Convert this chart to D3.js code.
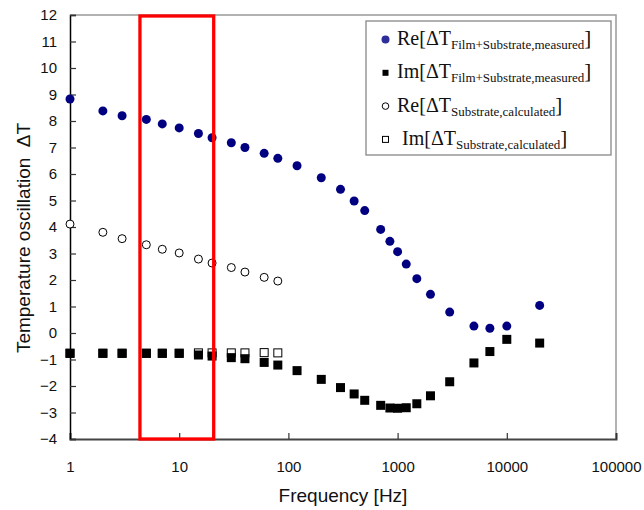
<!DOCTYPE html>
<html>
<head>
<meta charset="utf-8">
<script src="https://cdn.jsdelivr.net/npm/d3@7"></script>
<style>
    body { margin: 0; background: #fff; }
    svg { display: block; }
</style>
</head>
<body>
<div id="chart"></div>
<script>
// frequencies [Hz] of the measured points
const freqMeasured = [1, 2, 3, 5, 7, 10, 15, 20, 30, 40, 60, 80, 120, 200, 300, 400, 500, 700, 850, 1000, 1200, 1500, 2000, 3000, 5000, 7000, 10000, 20000];
const reMeasured = [8.83, 8.38, 8.2, 8.06, 7.89, 7.74, 7.53, 7.37, 7.18, 7.0, 6.78, 6.59, 6.31, 5.86, 5.42, 4.98, 4.62, 3.91, 3.46, 3.07, 2.6, 2.05, 1.46, 0.79, 0.26, 0.18, 0.26, 1.04];
const imMeasured = [-0.77, -0.77, -0.77, -0.77, -0.77, -0.77, -0.83, -0.87, -0.93, -0.97, -1.11, -1.21, -1.42, -1.75, -2.06, -2.3, -2.54, -2.73, -2.83, -2.84, -2.82, -2.67, -2.37, -1.84, -1.13, -0.7, -0.24, -0.38];

// substrate only, calculated
const freqCalc = [1, 2, 3, 5, 7, 10, 15, 20, 30, 40, 60, 80];
const reCalc = [4.11, 3.8, 3.56, 3.33, 3.16, 3.02, 2.79, 2.64, 2.47, 2.3, 2.1, 1.96];
const imCalc = [-0.76, -0.76, -0.76, -0.76, -0.76, -0.76, -0.75, -0.75, -0.75, -0.75, -0.74, -0.75];

const xTicks = [1, 10, 100, 1000, 10000, 100000];
const yTicks = d3.range(-4, 13, 1);

// highlighted frequency window (red box)
const highlight = [4.37, 20.7];

const legendRows = [
    {kind: "reMeas", main: "Re[ΔT", sub: "Film+Substrate,measured"},
    {kind: "imMeas", main: "Im[ΔT", sub: "Film+Substrate,measured"},
    {kind: "reCalc", main: "Re[ΔT", sub: "Substrate,calculated"},
    {kind: "imCalc", main: " Im[ΔT", sub: "Substrate,calculated"}
];

const W = 644, H = 510;
const margin = {top: 15, right: 28, bottom: 71, left: 70};
const width = W - margin.left - margin.right;
const height = H - margin.top - margin.bottom;

const svg = d3.select("#chart").append("svg")
    .attr("width", W)
    .attr("height", H);

const g = svg.append("g")
    .attr("transform", "translate(" + margin.left + "," + margin.top + ")");

const x = d3.scaleLog().domain([1, 100000]).range([0, width]);
const y = d3.scaleLinear().domain([-4, 12]).range([height, 0]);

const sans = "Liberation Sans, Arial, sans-serif";
const serif = "Liberation Serif, Times New Roman, serif";
const navy = "#000080";

// frame: top and right in grey
g.append("path")
    .attr("d", "M0,0H" + width + "V" + height)
    .attr("fill", "none")
    .attr("stroke", "#999")
    .attr("stroke-width", 1.5);

// x axis, ticks pointing up
const xAxis = g.append("g")
    .attr("transform", "translate(0," + height + ")")
    .call(d3.axisBottom(x).tickValues(xTicks).tickSize(-6).tickPadding(22).tickFormat(d3.format("d")));
xAxis.select(".domain").attr("stroke", "#444").attr("stroke-width", 2);
xAxis.selectAll(".tick line").attr("stroke", "#333").attr("stroke-width", 1.2);
xAxis.selectAll("text")
    .attr("font-family", sans)
    .attr("font-size", 15)
    .attr("fill", "#111");

// y axis, ticks pointing in
const yAxis = g.append("g")
    .call(d3.axisLeft(y).tickValues(yTicks).tickSize(-6).tickPadding(13).tickFormat(d => d < 0 ? "−" + Math.abs(d) : d));
yAxis.select(".domain").attr("stroke", "#000").attr("stroke-width", 1.5);
yAxis.selectAll(".tick line").attr("stroke", "#333").attr("stroke-width", 1.2);
yAxis.selectAll("text")
    .attr("font-family", sans)
    .attr("font-size", 15)
    .attr("fill", "#111");

// axis titles
svg.append("text")
    .attr("x", margin.left + width / 2)
    .attr("y", 502)
    .attr("text-anchor", "middle")
    .attr("font-family", sans)
    .attr("font-size", 19)
    .attr("fill", "#111")
    .text("Frequency [Hz]");

svg.append("text")
    .attr("transform", "translate(30,238) rotate(-90)")
    .attr("text-anchor", "middle")
    .attr("font-family", sans)
    .attr("font-size", 19)
    .attr("fill", "#111")
    .attr("xml:space", "preserve")
    .style("white-space", "pre")
    .text("Temperature oscillation  ΔT");

// calculated substrate values (drawn under the measured ones)
const calc = freqCalc.map((f, i) => ({f: f, re: reCalc[i], im: imCalc[i]}));
const meas = freqMeasured.map((f, i) => ({f: f, re: reMeasured[i], im: imMeasured[i]}));

g.selectAll(".im-calc").data(calc).enter().append("rect")
    .attr("class", "im-calc")
    .attr("x", d => x(d.f) - 4)
    .attr("y", d => y(d.im) - 4)
    .attr("width", 8)
    .attr("height", 8)
    .attr("fill", "#fff")
    .attr("stroke", "#000")
    .attr("stroke-width", 1);

g.selectAll(".re-calc").data(calc).enter().append("circle")
    .attr("class", "re-calc")
    .attr("cx", d => x(d.f))
    .attr("cy", d => y(d.re))
    .attr("r", 4)
    .attr("fill", "#fff")
    .attr("stroke", "#000")
    .attr("stroke-width", 1);

g.selectAll(".im-meas").data(meas).enter().append("rect")
    .attr("class", "im-meas")
    .attr("x", d => x(d.f) - 4.5)
    .attr("y", d => y(d.im) - 4.5)
    .attr("width", 9)
    .attr("height", 9)
    .attr("fill", "#000");

g.selectAll(".re-meas").data(meas).enter().append("circle")
    .attr("class", "re-meas")
    .attr("cx", d => x(d.f))
    .attr("cy", d => y(d.re))
    .attr("r", 4.5)
    .attr("fill", navy);

// red box over the chosen frequency window
g.append("rect")
    .attr("x", x(highlight[0]))
    .attr("y", y(12) + 1)
    .attr("width", x(highlight[1]) - x(highlight[0]))
    .attr("height", y(-4) - y(12) - 1)
    .attr("fill", "none")
    .attr("stroke", "#ff0000")
    .attr("stroke-width", 3.3);

// legend
const legend = svg.append("g");

legend.append("rect")
    .attr("x", 366)
    .attr("y", 21)
    .attr("width", 245)
    .attr("height", 134)
    .attr("fill", "#fff")
    .attr("stroke", "#888")
    .attr("stroke-width", 1.3);

const rowY = i => 39.5 + i * 33.3;

legendRows.forEach((row, i) => {
    const cy = rowY(i);
    if (row.kind === "reMeas") {
        legend.append("circle").attr("cx", 385.5).attr("cy", cy).attr("r", 4).attr("fill", "#2e2e9a");
    } else if (row.kind === "imMeas") {
        legend.append("rect").attr("x", 382.5).attr("y", cy - 3).attr("width", 6).attr("height", 6).attr("fill", "#000");
    } else if (row.kind === "reCalc") {
        legend.append("circle").attr("cx", 385.5).attr("cy", cy).attr("r", 3.3)
            .attr("fill", "#fff").attr("stroke", "#000").attr("stroke-width", 1);
    } else {
        legend.append("rect").attr("x", 382.5).attr("y", cy - 3).attr("width", 6).attr("height", 6)
            .attr("fill", "#fff").attr("stroke", "#000").attr("stroke-width", 1);
    }

    const t = legend.append("text")
        .attr("x", 397)
        .attr("y", cy + 5.5)
        .attr("font-family", serif)
        .attr("font-size", 20)
        .attr("fill", "#111")
        .attr("xml:space", "preserve")
        .style("white-space", "pre");
    t.append("tspan").text(row.main);
    t.append("tspan").attr("dy", 4).attr("font-size", 13).text(row.sub);
    t.append("tspan").attr("dy", -4).attr("font-size", 21).text("]");
});
</script>
</body>
</html>
